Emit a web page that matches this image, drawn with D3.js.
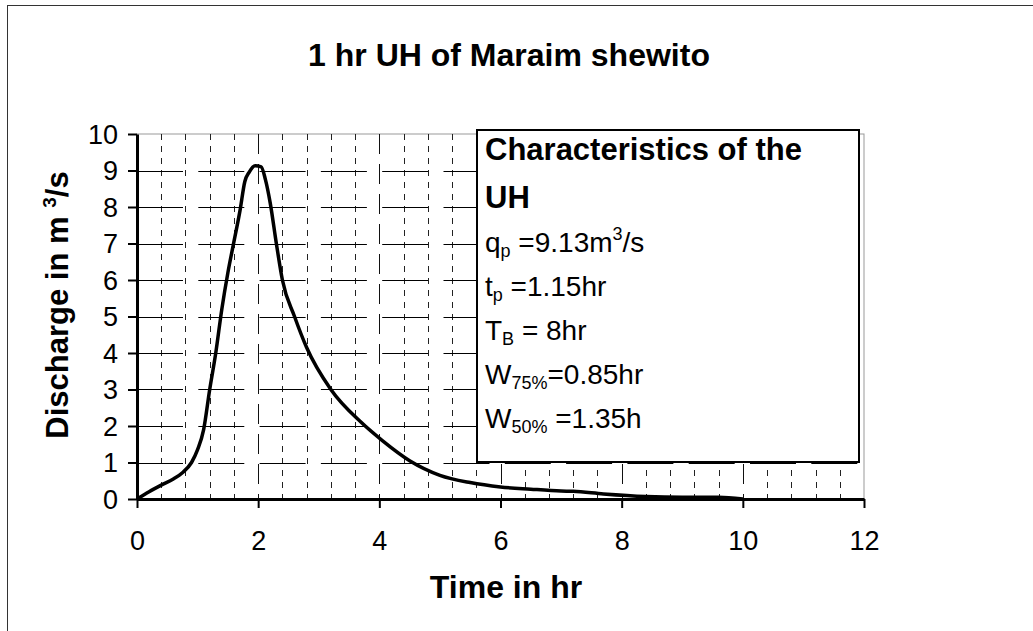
<!DOCTYPE html>
<html>
<head>
<meta charset="utf-8">
<script src="https://cdn.jsdelivr.net/npm/d3@7"></script>
<style>
  body { margin: 0; background: #fff; }
  svg { display: block; font-family: "Liberation Sans", Arial, sans-serif; }
</style>
</head>
<body>
<div id="chart"></div>
<script>
// hydrograph ordinates
var timeHr = [0, 0.2, 0.4, 0.6, 0.75, 0.9, 1.0, 1.1, 1.2, 1.3, 1.4, 1.5, 1.6, 1.7, 1.78, 1.85, 1.95, 2.05, 2.12, 2.2, 2.3, 2.4, 2.6, 2.8, 3.2, 3.7, 4.05, 4.5, 5.0, 5.5, 6.0, 6.5, 7.0, 7.2, 7.7, 8.4, 9.0, 9.6, 10.0];
var discharge = [0, 0.2, 0.38, 0.55, 0.72, 1.0, 1.35, 1.9, 3.0, 4.0, 5.2, 6.2, 7.05, 7.9, 8.7, 8.95, 9.13, 9.1, 8.75, 8.1, 7.0, 6.0, 5.0, 4.15, 3.0, 2.1, 1.6, 1.05, 0.65, 0.45, 0.33, 0.27, 0.22, 0.21, 0.14, 0.07, 0.05, 0.05, 0];

var xTicks = [0, 2, 4, 6, 8, 10, 12];
var yTicks = [0, 1, 2, 3, 4, 5, 6, 7, 8, 9, 10];

var titleText = "1 hr UH of Maraim shewito";
var xTitle = "Time in hr";

var width = 1033;
var height = 631;

var x = d3.scaleLinear().domain([0, 12]).range([137, 864]);
var y = d3.scaleLinear().domain([0, 10]).range([499, 134]);

var svg = d3.select("#chart").append("svg")
    .attr("width", width)
    .attr("height", height);

// outer frame (right and bottom edges fall outside the picture)
svg.append("rect")
    .attr("x", 7.5).attr("y", 5.5)
    .attr("width", 1100).attr("height", 700)
    .attr("fill", "none")
    .attr("stroke", "#333")
    .attr("stroke-width", 1);

svg.append("text")
    .attr("x", 509).attr("y", 66)
    .attr("text-anchor", "middle")
    .style("font-size", "32px")
    .style("font-weight", "bold")
    .text(titleText);

// plot area border
svg.append("rect")
    .attr("x", x(0)).attr("y", y(10))
    .attr("width", x(12) - x(0)).attr("height", y(0) - y(10))
    .attr("fill", "#fff")
    .attr("stroke", "#999")
    .attr("stroke-width", 1);

// vertical grid: minor every 0.4 hr, major every 2 hr
var minorX = d3.range(1, 30).map(function(i) { return i * 0.4; })
    .filter(function(v) { return Math.abs(v / 2 - Math.round(v / 2)) > 1e-6; });
var majorX = [2, 4, 6, 8, 10];

svg.append("g").selectAll("line")
    .data(minorX)
    .enter().append("line")
    .attr("x1", function(d) { return Math.round(x(d)) + 0.5; })
    .attr("x2", function(d) { return Math.round(x(d)) + 0.5; })
    .attr("y1", y(10)).attr("y2", y(0))
    .attr("stroke", "#222")
    .attr("stroke-width", 1)
    .attr("stroke-dasharray", "6,6");

svg.append("g").selectAll("line")
    .data(majorX)
    .enter().append("line")
    .attr("x1", function(d) { return Math.round(x(d)) + 0.5; })
    .attr("x2", function(d) { return Math.round(x(d)) + 0.5; })
    .attr("y1", y(10)).attr("y2", y(0))
    .attr("stroke", "#111")
    .attr("stroke-width", 1)
    .attr("stroke-dasharray", "20,10");

svg.append("g").selectAll("line")
    .data(yTicks.slice(1, 10))
    .enter().append("line")
    .attr("x1", x(0)).attr("x2", x(12))
    .attr("y1", function(d) { return Math.round(y(d)) + 0.5; })
    .attr("y2", function(d) { return Math.round(y(d)) + 0.5; })
    .attr("stroke", "#000")
    .attr("stroke-width", 1)
    .attr("stroke-dasharray", "46,15.3");

// axes
var xAxis = svg.append("g")
    .attr("transform", "translate(0," + y(0) + ")")
    .call(d3.axisBottom(x).tickValues(xTicks).tickSize(9).tickSizeOuter(0).tickFormat(d3.format("d")));
var yAxis = svg.append("g")
    .attr("transform", "translate(" + x(0) + ",0)")
    .call(d3.axisLeft(y).tickValues(yTicks).tickSize(9).tickSizeOuter(0).tickFormat(d3.format("d")));

[xAxis, yAxis].forEach(function(ax) {
  ax.select(".domain").attr("stroke", "#000").attr("stroke-width", 3);
  ax.selectAll(".tick line").attr("stroke", "#000").attr("stroke-width", 2);
  ax.selectAll(".tick text")
      .style("font-size", "27px")
      .style("font-family", "'Liberation Sans', Arial, sans-serif")
      .attr("fill", "#000");
});
xAxis.selectAll(".tick text")
    .attr("y", 51).attr("dy", 0);
yAxis.selectAll(".tick text")
    .attr("x", -19).attr("dy", "0.35em");

// hydrograph curve
var pts = timeHr.map(function(t, i) { return [t, discharge[i]]; });
var line = d3.line()
    .x(function(d) { return x(d[0]); })
    .y(function(d) { return y(d[1]); })
    .curve(d3.curveMonotoneX);

svg.append("path")
    .datum(pts)
    .attr("d", line)
    .attr("fill", "none")
    .attr("stroke", "#000")
    .attr("stroke-width", 3.5)
    .attr("stroke-linejoin", "round");

// axis titles
svg.append("text")
    .attr("x", 506).attr("y", 598)
    .attr("text-anchor", "middle")
    .style("font-size", "32px")
    .style("font-weight", "bold")
    .text(xTitle);

var yt = svg.append("text")
    .attr("transform", "translate(68,305) rotate(-90)")
    .attr("text-anchor", "middle")
    .style("font-size", "31px")
    .style("font-weight", "bold");
yt.append("tspan").text("Discharge in m ");
yt.append("tspan").attr("dy", -12).style("font-size", "19px").text("3");
yt.append("tspan").attr("dy", 12).text("/s");

// characteristics box
svg.append("rect")
    .attr("x", 477).attr("y", 130)
    .attr("width", 382).attr("height", 332)
    .attr("fill", "#fff")
    .attr("stroke", "#000")
    .attr("stroke-width", 2);

var boxHead = ["Characteristics of the", "UH"];
var boxHeadY = [160, 208];
boxHead.forEach(function(s, i) {
  svg.append("text")
      .attr("x", 485).attr("y", boxHeadY[i])
      .style("font-size", "31px")
      .style("font-weight", "bold")
      .text(s);
});

// each line: [main, sub, rest, sup, tail]
var boxLines = [
  ["q", "p", " =9.13m", "3", "/s"],
  ["t", "p", " =1.15hr", "", ""],
  ["T", "B", " = 8hr", "", ""],
  ["W", "75%", "=0.85hr", "", ""],
  ["W", "50%", " =1.35h", "", ""]
];
var boxLineY = [252, 296, 340, 384, 428];

boxLines.forEach(function(parts, i) {
  var t = svg.append("text")
      .attr("x", 485).attr("y", boxLineY[i])
      .style("font-size", "28px");
  t.append("tspan").text(parts[0]);
  t.append("tspan").attr("dy", 5).style("font-size", "18px").text(parts[1]);
  t.append("tspan").attr("dy", -5).text(parts[2]);
  if (parts[3]) {
    t.append("tspan").attr("dy", -12).style("font-size", "18px").text(parts[3]);
    t.append("tspan").attr("dy", 12).text(parts[4]);
  }
});
</script>
</body>
</html>
